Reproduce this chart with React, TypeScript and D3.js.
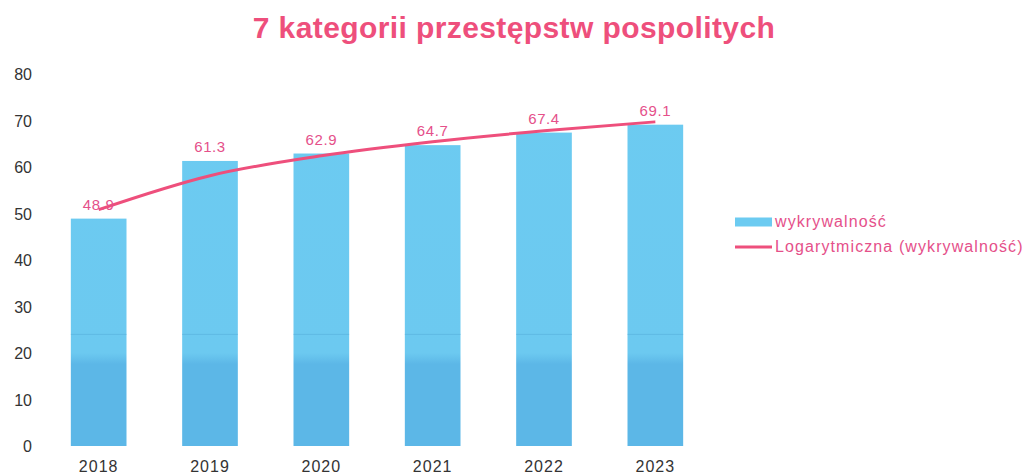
import React, { useEffect, useRef } from 'react';
import * as d3 from 'd3';

const years = ['2018', '2019', '2020', '2021', '2022', '2023'];
const detection = [48.9, 61.3, 62.9, 64.7, 67.4, 69.1];
const yTicks = [0, 10, 20, 30, 40, 50, 60, 70, 80];
const legendLabels = ['wykrywalność', 'Logarytmiczna (wykrywalność)'];

const PINK = '#ee4f7c';
const LABEL_PINK = '#e5508a';

// least squares fit of y = a*ln(x) + b, like the spreadsheet trendline
function logFit(values: number[]) {
  const xs = values.map((_, i) => Math.log(i + 1));
  const mx = d3.mean(xs)!;
  const my = d3.mean(values)!;
  let num = 0, den = 0;
  xs.forEach((x, i) => {
    num += (x - mx) * (values[i] - my);
    den += (x - mx) * (x - mx);
  });
  const a = num / den;
  const b = my - a * mx;
  return (i: number) => a * Math.log(i + 1) + b;
}

export default function App() {
  const ref = useRef<SVGSVGElement>(null);

  useEffect(() => {
    const svg = d3.select(ref.current);
    svg.selectAll('*').remove();

    const x = d3.scaleBand().domain(years).range([43, 711]).paddingInner(0.5).paddingOuter(0.25);
    const y = d3.scaleLinear().domain([0, 80]).range([446, 74]);

    const defs = svg.append('defs');
    const grad = defs.append('linearGradient')
      .attr('id', 'barFill')
      .attr('gradientUnits', 'userSpaceOnUse')
      .attr('x1', 0).attr('x2', 0)
      .attr('y1', y(0)).attr('y2', y(80));
    grad.append('stop').attr('offset', '0%').attr('stop-color', '#5cb7e7');
    grad.append('stop').attr('offset', '22%').attr('stop-color', '#5cb7e7');
    grad.append('stop').attr('offset', '25%').attr('stop-color', '#6cc9f0');
    grad.append('stop').attr('offset', '100%').attr('stop-color', '#6ccbf1');

    svg.append('text')
      .attr('x', 514).attr('y', 38)
      .attr('text-anchor', 'middle')
      .attr('font-family', 'Liberation Sans, Arial, sans-serif')
      .attr('font-weight', 'bold')
      .attr('font-size', 30)
      .attr('letter-spacing', 0.4)
      .attr('fill', PINK)
      .text('7 kategorii przestępstw pospolitych');

    svg.append('g').selectAll('text')
      .data(yTicks)
      .enter()
      .append('text')
      .attr('x', 32)
      .attr('y', d => y(d) + 6)
      .attr('text-anchor', 'end')
      .attr('font-family', 'Liberation Sans, Arial, sans-serif')
      .attr('font-size', 16)
      .attr('fill', '#333')
      .text(d => d);

    svg.append('g').selectAll('rect')
      .data(detection)
      .enter()
      .append('rect')
      .attr('x', (_, i) => x(years[i])!)
      .attr('width', x.bandwidth())
      .attr('y', d => y(d))
      .attr('height', d => y(0) - y(d))
      .attr('fill', 'url(#barFill)');

    // faint scan line across the bars
    svg.append('g').selectAll('line')
      .data(years)
      .enter()
      .append('line')
      .attr('x1', d => x(d)!)
      .attr('x2', d => x(d)! + x.bandwidth())
      .attr('y1', y(24)).attr('y2', y(24))
      .attr('stroke', '#58b0dc').attr('stroke-width', 1).attr('opacity', 0.6);

    svg.append('g').selectAll('text')
      .data(years)
      .enter()
      .append('text')
      .attr('x', d => x(d)! + x.bandwidth() / 2)
      .attr('y', 472)
      .attr('text-anchor', 'middle')
      .attr('font-family', 'Liberation Sans, Arial, sans-serif')
      .attr('font-size', 16)
      .attr('letter-spacing', 1)
      .attr('fill', '#333')
      .text(d => d);

    const fit = logFit(detection);
    const trend = years.map((yr, i) => [x(yr)! + x.bandwidth() / 2, y(fit(i))] as [number, number]);
    svg.append('path')
      .attr('d', d3.line().curve(d3.curveMonotoneX)(trend))
      .attr('fill', 'none')
      .attr('stroke', PINK)
      .attr('stroke-width', 3);

    svg.append('g').selectAll('text')
      .data(detection)
      .enter()
      .append('text')
      .attr('x', (_, i) => x(years[i])! + x.bandwidth() / 2)
      .attr('y', d => y(d) - 9)
      .attr('text-anchor', 'middle')
      .attr('font-family', 'Liberation Sans, Arial, sans-serif')
      .attr('font-size', 15)
      .attr('letter-spacing', 0.6)
      .attr('fill', LABEL_PINK)
      .text(d => d.toFixed(1));

    const legend = svg.append('g').attr('transform', 'translate(735, 222)');
    legend.append('rect')
      .attr('x', 0).attr('y', -4.5).attr('width', 37).attr('height', 9)
      .attr('fill', '#6ccbf1');
    legend.append('line')
      .attr('x1', 0).attr('x2', 37).attr('y1', 25).attr('y2', 25)
      .attr('stroke', PINK).attr('stroke-width', 3);
    legend.selectAll('text')
      .data(legendLabels)
      .enter()
      .append('text')
      .attr('x', 40)
      .attr('y', (_, i) => i * 25 + 5)
      .attr('font-family', 'Liberation Sans, Arial, sans-serif')
      .attr('font-size', 16)
      .attr('letter-spacing', 1.1)
      .attr('fill', LABEL_PINK)
      .text(d => d);
  }, []);

  return <svg ref={ref} width={1024} height={475} style={{ position: 'absolute', left: 0, top: 0 }} />;
}
